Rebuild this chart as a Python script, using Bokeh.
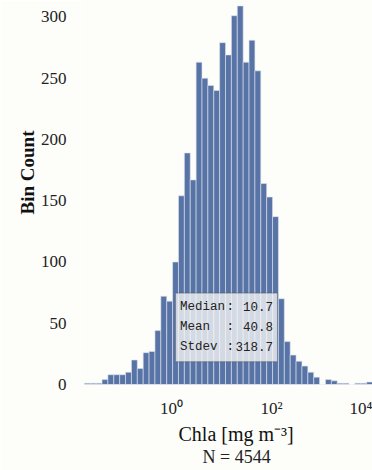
from bokeh.plotting import figure
from bokeh.models import (ColumnDataSource, Range1d, FixedTicker, BoxAnnotation,
                          Label, Title)
from bokeh.embed import file_html
from bokeh.resources import INLINE

# ---- data ----
bin_start_log10 = -1.742
bin_width_log10 = 0.1176
counts = [1, 1, 1, 4, 8, 8, 8, 10, 20, 13, 26, 27, 44, 72, 68,
          100, 154, 189, 167, 263, 250, 244, 240, 279, 269, 301, 309,
          263, 281, 256, 164, 153, 137, 70, 35, 24, 19, 15, 10, 6,
          0, 4, 3, 1, 1, 0, 1, 1, 2]
x_ticks = [1, 100, 10000]
x_tick_labels = ["10⁰", "10²", "10⁴"]
y_ticks = [0, 50, 100, 150, 200, 250, 300]
stat_names = ["Median", "Mean", "Stdev"]
stat_values = ["10.7", "40.8", "318.7"]
n_total = 4544

lefts = [10 ** (bin_start_log10 + i * bin_width_log10) for i in range(len(counts))]
rights = [10 ** (bin_start_log10 + (i + 1) * bin_width_log10) for i in range(len(counts))]
src = ColumnDataSource(dict(left=lefts, right=rights, top=counts, bottom=[0] * len(counts)))

BG = "#fdfdfa"
SERIF = "Liberation Serif"

p = figure(width=372, height=470, x_axis_type="log",
           x_range=Range1d(10 ** -1.82, 10 ** 4.02), y_range=Range1d(0, 313.4),
           output_backend="svg", toolbar_location=None,
           min_border_left=80, min_border_right=0, min_border_top=0, min_border_bottom=86)
p.background_fill_color = BG
p.border_fill_color = BG
p.outline_line_color = None
p.grid.grid_line_color = None

p.quad(left="left", right="right", top="top", bottom="bottom", source=src,
       fill_color="#5874a6", line_color="#dfe4ee", line_width=0.6)

# stats box
box = BoxAnnotation(left=10 ** 0.08, right=10 ** 2.12, bottom=18.6, top=74.6,
                    fill_color="#f4f4f4", fill_alpha=0.8,
                    line_color="#333333", line_width=1.2)
p.add_layout(box)
ys = [63.4, 47.1, 30.8]
for name, val, yy in zip(stat_names, stat_values, ys):
    for txt, xx, al in [(name, 10 ** 0.17, "left"), (":", 10 ** 1.10, "left"),
                        (val, 10 ** 2.03, "right")]:
        p.add_layout(Label(x=xx, y=yy, text=txt, text_align=al, text_baseline="middle",
                           text_font="Liberation Mono", text_font_size="12.5px",
                           text_color="#222222"))

# axes
for ax in (p.xaxis[0], p.yaxis[0]):
    ax.axis_line_color = None
    ax.major_tick_line_color = None
    ax.minor_tick_line_color = None
    ax.major_label_text_font = SERIF
    ax.major_label_text_font_size = "17px"
    ax.major_label_text_color = "#222222"

p.xaxis.ticker = FixedTicker(ticks=x_ticks)
p.xaxis.major_label_overrides = dict(zip(x_ticks, x_tick_labels))
p.xaxis.major_label_standoff = 8

p.yaxis.ticker = FixedTicker(ticks=y_ticks)
p.yaxis.major_label_standoff = 8

p.add_layout(Title(text="Bin Count", align="right", offset=130, text_font=SERIF,
                   text_font_size="19px", text_font_style="bold",
                   text_color="#111111", standoff=0), "left")

p.add_layout(Title(text="Chla [mg m⁻³]", align="left", offset=98, text_font=SERIF,
                   text_font_size="20px", text_font_style="normal",
                   text_color="#111111", standoff=0), "below")
p.add_layout(Title(text=f"N = {n_total}", align="left", offset=122, text_font=SERIF,
                   text_font_size="18px", text_font_style="normal",
                   text_color="#222222", standoff=0), "below")

open("out.html", "w").write(file_html(p, INLINE))
